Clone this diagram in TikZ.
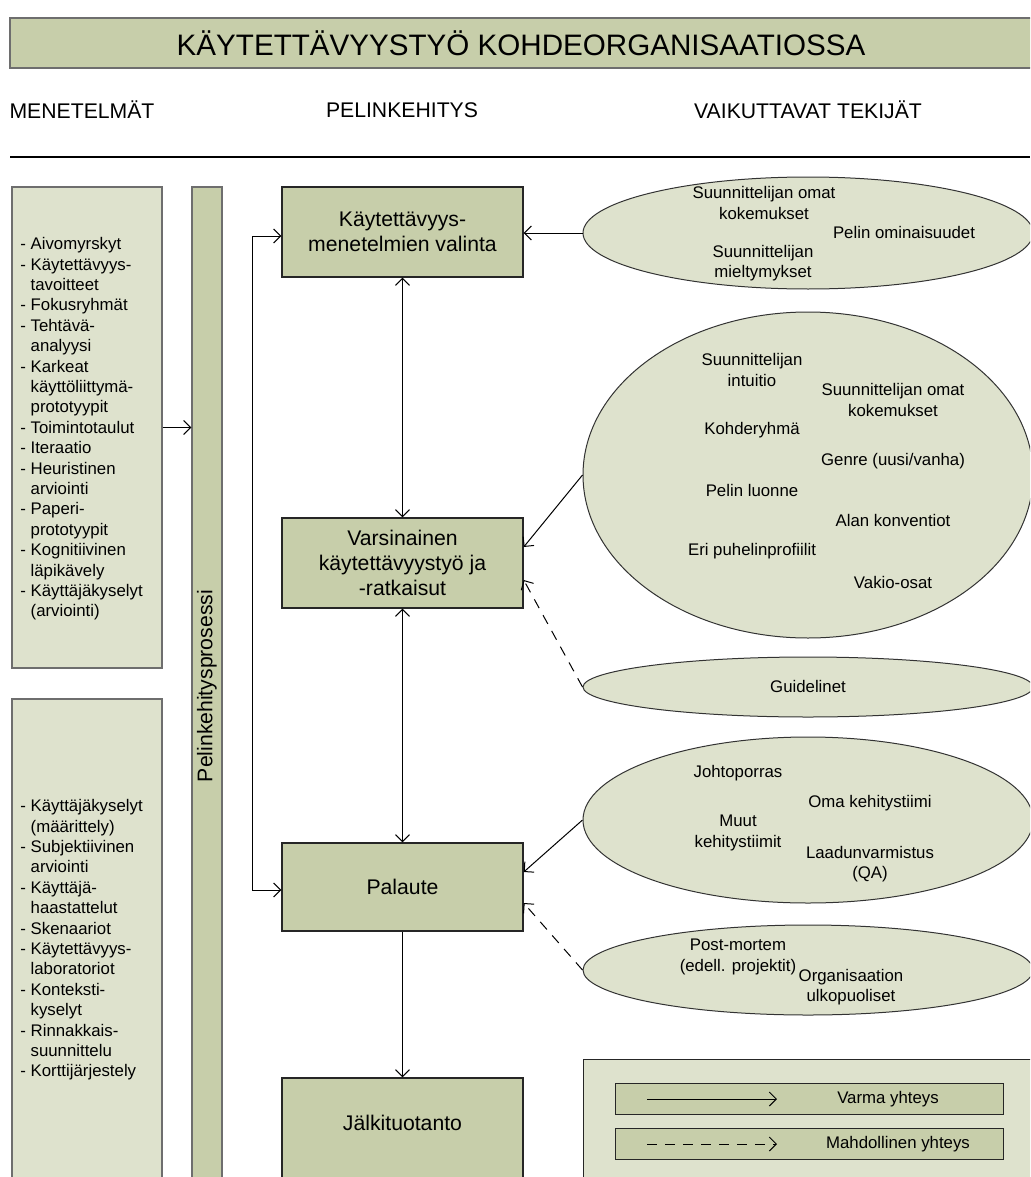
\documentclass[tikz,border=0pt]{standalone}
\usepackage{fontspec}
\setmainfont{Liberation Sans}
\usetikzlibrary{shapes.geometric,arrows.meta}
\definecolor{olivedark}{RGB}{199,206,170}
\definecolor{olivelight}{RGB}{222,226,205}
\definecolor{edgegray}{RGB}{110,110,110}
\newcommand\txtsmall{\fontsize{8.4pt}{10.2pt}\selectfont}
\newcommand\txtbox{\fontsize{10.6pt}{12.6pt}\selectfont}
\newcommand\ind{\phantom{- }}

\begin{document}
\begin{tikzpicture}[x=0.5pt,y=-0.5pt,
  phase/.style={draw=black!85,line width=0.7pt,fill=olivedark,minimum width=120.5pt,minimum height=45pt,align=center,font=\txtbox,inner sep=0pt},
  methods/.style={draw=edgegray,line width=0.7pt,fill=olivelight,minimum width=75pt},
  factors/.style={ellipse,draw=black!80,line width=0.5pt,fill=olivelight,minimum width=225pt,inner sep=0pt},
  ftxt/.style={font=\txtsmall,align=center},
  link/.style={line width=0.5pt,-{Straight Barb[length=3.5pt,width=7pt]}},
  maybe/.style={link,dash pattern=on 5pt off 4pt},
  both/.style={line width=0.5pt,{Straight Barb[length=3.5pt,width=7pt]}-{Straight Barb[length=3.5pt,width=7pt]}}
]
\useasboundingbox (0,0) rectangle (1030,1177);
\clip (0,0) rectangle (1030,1177);

\node[fill=olivedark,draw=edgegray,line width=0.7pt,minimum width=511pt,minimum height=25pt,
  font=\fontsize{14.8pt}{16pt}\selectfont] (title) at (521,43) {KÄYTETTÄVYYSTYÖ KOHDEORGANISAATIOSSA};
\node[font=\txtbox] (hmeth) at (82,110) {MENETELMÄT};
\node[font=\txtbox] (hdev) at (402,110) {PELINKEHITYS};
\node[font=\txtbox] (hfac) at (808,110) {VAIKUTTAVAT TEKIJÄT};
\draw[line width=1.3pt] (10,157) -- (1030,157);

% menetelmat
\node[methods,minimum height=240.5pt] (meth1) at (87,427.5) {};
\node[methods,minimum height=243pt] (meth2) at (87,942) {};
\node[font=\txtsmall,align=left,anchor=west,inner sep=0pt] (list1) at (20,429)
  {- Aivomyrskyt\\- Käytettävyys-\\\ind tavoitteet\\- Fokusryhmät\\- Tehtävä-\\\ind analyysi\\- Karkeat\\\ind käyttöliittymä-\\\ind prototyypit\\- Toimintotaulut\\- Iteraatio\\- Heuristinen\\\ind arviointi\\- Paperi-\\\ind prototyypit\\- Kognitiivinen\\\ind läpikävely\\- Käyttäjäkyselyt\\\ind (arviointi)};
\node[font=\txtsmall,align=left,anchor=west,inner sep=0pt] (list2) at (20,940)
  {- Käyttäjäkyselyt\\\ind (määrittely)\\- Subjektiivinen\\\ind arviointi\\- Käyttäjä-\\\ind haastattelut\\- Skenaariot\\- Käytettävyys-\\\ind laboratoriot\\- Konteksti-\\\ind kyselyt\\- Rinnakkais-\\\ind suunnittelu\\- Korttijärjestely};
\node[phase,rotate=90,minimum width=499pt,minimum height=15pt,draw=edgegray] (bar) at (207,686) {Pelinkehitysprosessi};

% pelinkehitys
\node[phase] (choose) at (402.5,232) {Käytettävyys-\\menetelmien valinta};
\node[phase] (work) at (402.5,563) {Varsinainen\\käytettävyystyö ja\\-ratkaisut};
\node[phase,minimum height=44pt] (feedback) at (402.5,887) {Palaute};
\node[phase,minimum height=62pt] (post) at (402.5,1140) {};
\node[font=\txtbox] (posttxt) at (402.5,1123) {Jälkituotanto};

% tekijat
\node[factors,minimum height=56pt] (fac1) at (808,233) {};
\node[factors,minimum height=163pt] (fac2) at (808,475) {};
\node[factors,minimum height=30pt] (guide) at (808,687) {};
\node[factors,minimum height=83pt] (org) at (808,820) {};
\node[factors,minimum height=45pt] (past) at (808,970) {};

\node[ftxt] (exp1) at (764,203) {Suunnittelijan omat\\kokemukset};
\node[ftxt] (game1) at (904,232) {Pelin ominaisuudet};
\node[ftxt] (pref1) at (763,263) {Suunnittelijan\\mieltymykset};
\foreach \x/\y/\lab [count=\i] in {752/370/{Suunnittelijan\\intuitio},893/400/{Suunnittelijan omat\\kokemukset},
  752/430/{Kohderyhmä},893/461/{Genre (uusi/vanha)},752/490/{Pelin luonne},893/520/{Alan konventiot},
  752/551/{Eri puhelinprofiilit},893/582/{Vakio-osat}}
  \node[ftxt] (work\i) at (\x,\y) {\lab};
\node[ftxt] (guidetxt) at (808,686) {Guidelinet};
\node[ftxt] (org1) at (738,773) {Johtoporras};
\node[ftxt] (org2) at (870,803) {Oma kehitystiimi};
\node[ftxt] (org3) at (738,833) {Muut\\kehitystiimit};
\node[ftxt] (org4) at (870,864) {Laadunvarmistus\\(QA)};
\node[ftxt] (past1) at (738,957) {Post-mortem\\(edell. projektit)};
\node[ftxt] (past2) at (851,987) {Organisaation\\ulkopuoliset};

% yhteydet
\draw[link] (meth1.east) -- (meth1.east -| bar.north);
\draw[both] (choose.south) -- (work.north);
\draw[both] (work.south) -- (feedback.north);
\draw[link] (feedback.south) -- (post.north);
\draw[both] ([yshift=-2pt]choose.west) -- ++(-29,0) |- ([yshift=-1.5pt]feedback.west);
\draw[link] (fac1.west) -- (fac1.west -| choose.east);
\draw[link] (fac2.west) -- ([yshift=8pt]work.east);
\draw[maybe] (guide.west) -- ([yshift=-8.5pt]work.east);
\draw[link] (org.west) -- ([yshift=7.5pt]feedback.east);
\draw[maybe] (past.west) -- ([yshift=-8pt]feedback.east);

% selite
\node[draw=black!85,line width=0.7pt,fill=olivelight,minimum width=230pt,minimum height=66pt,anchor=north west] (legend) at (583,1059) {};
\node[phase,minimum width=194pt,minimum height=15.5pt,anchor=north west] (legsure) at (615,1083) {};
\node[phase,minimum width=194pt,minimum height=15.5pt,anchor=north west] (legmaybe) at (615,1128) {};
\coordinate (s1) at (647,1099);
\coordinate (s2) at (777,1099);
\coordinate (m1) at (647,1144);
\coordinate (m2) at (777,1144);
\draw[link] (s1) -- (s2);
\draw[maybe] (m1) -- (m2);
\node[font=\txtsmall] (legsuretxt) at (888,1099) {Varma yhteys};
\node[font=\txtsmall] (legmaybetxt) at (898,1144) {Mahdollinen yhteys};
\end{tikzpicture}
\end{document}
